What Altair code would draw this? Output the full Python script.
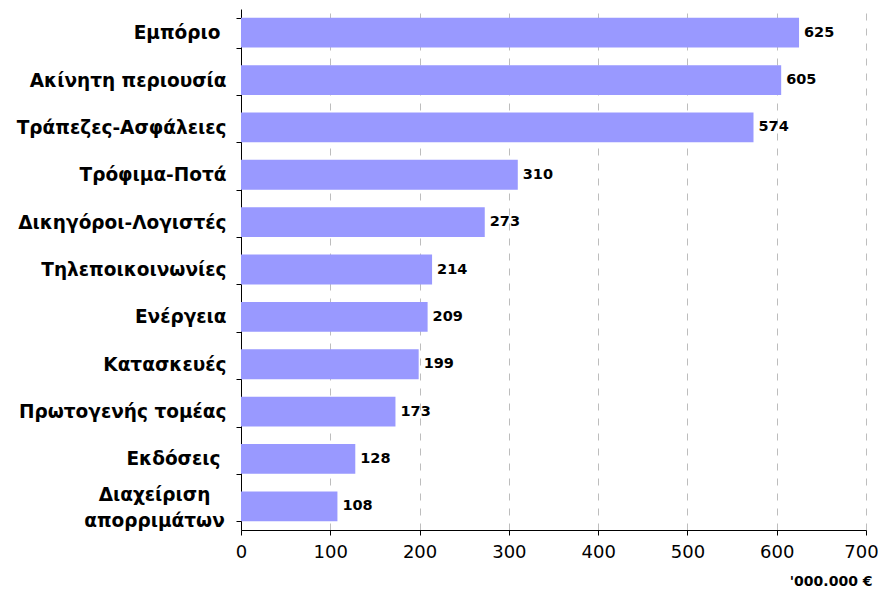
import altair as alt
import pandas as pd

categories = ["Εμπόριο", "Ακίνητη περιουσία", "Τράπεζες-Ασφάλειες", "Τρόφιμα-Ποτά",
              "Δικηγόροι-Λογιστές", "Τηλεποικοινωνίες", "Ενέργεια", "Κατασκευές",
              "Πρωτογενής τομέας", "Εκδόσεις", "Διαχείριση|απορριμάτων"]
values = [625, 605, 574, 310, 273, 214, 209, 199, 173, 128, 108]
x_ticks = [0, 100, 200, 300, 400, 500, 600, 700]

df = pd.DataFrame({"cat": categories, "val": values})

FONT = "DejaVu Sans"
WRAP = "datum.value == 'Διαχείριση|απορριμάτων'"

y = alt.Y("cat:N", sort=categories, title=None,
          scale=alt.Scale(paddingInner=0.37, paddingOuter=0.185),
          axis=alt.Axis(labelFont=FONT, labelFontSize=18.5, labelFontWeight="bold",
                        labelColor="black", labelLimit=300,
                        labelPadding={"condition": [
                            {"test": "datum.value == 'Εμπόριο' || datum.value == 'Εκδόσεις'",
                             "value": 16},
                            {"test": WRAP, "value": 82}],
                            "value": 10},
                        labelAlign={"condition": {"test": WRAP, "value": "center"},
                                    "value": "right"},
                        labelOffset={"condition": {"test": WRAP, "value": -12},
                                     "value": 0},
                        labelExpr="split(datum.label, '|')", labelLineHeight=26,
                        domainColor="black", tickColor="black", tickSize=5,
                        tickBand="extent", grid=False))

x = alt.X("val:Q", title="'000.000 €",
          scale=alt.Scale(domain=[0, 700], nice=False),
          axis=alt.Axis(values=x_ticks, labelFont=FONT, labelFontSize=18,
                        labelColor="black", labelPadding=8, labelFlush=False,
                        labelOffset={"condition": {"test": "datum.value == 700", "value": -5},
                                     "value": 0},
                        domainColor="black", tickColor="black", tickSize=5,
                        grid=True, gridColor="#bdbdbd", gridDash=[7, 8],
                        titleFont=FONT, titleFontSize=14, titleFontWeight="bold",
                        titleColor="black", titleAnchor="end", titleAlign="right",
                        titleX=631, titleY=51, titleBaseline="middle"))

bars = alt.Chart(df).mark_bar(color="#9999FF").encode(x=x, y=y)
text = alt.Chart(df).mark_text(align="left", baseline="middle", dx=5,
                               font=FONT, fontSize=14.5, fontWeight="bold",
                               color="black").encode(
    x="val:Q", y=alt.Y("cat:N", sort=categories), text="val:Q")

chart = (bars + text).properties(
    width=625, height=521,
    autosize=alt.AutoSizeParams(type="none"),
    padding={"left": 233, "top": 1, "right": 12, "bottom": 62},
).configure_view(stroke=None)

chart.save("out.html", embed_options={"renderer": "svg", "actions": False})
